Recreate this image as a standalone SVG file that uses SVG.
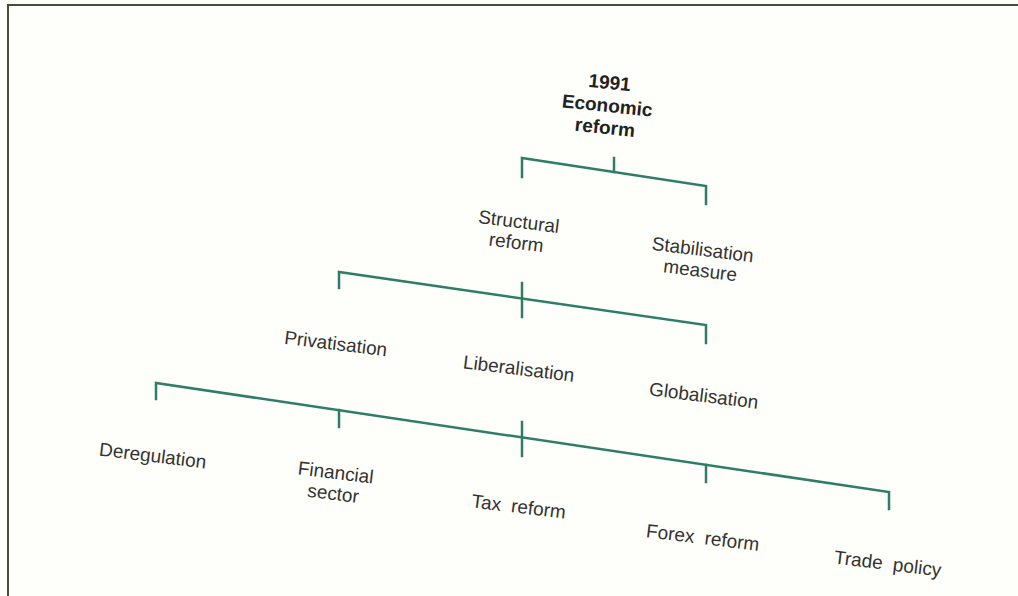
<svg xmlns="http://www.w3.org/2000/svg" width="1018" height="596" viewBox="0 0 1018 596">
<style>
.bg{fill:#fefefa}
.frame{stroke:#4b4b3c;stroke-width:2;fill:none}
.br{stroke:#2f7d66;stroke-width:2.5;fill:none;stroke-linecap:square}
.t{font-family:"Liberation Sans",Arial,sans-serif;font-size:19px;fill:#333;text-anchor:middle}
.b{font-weight:bold;fill:#222}
.ws{word-spacing:5px}
</style>
<rect class="bg" x="0" y="0" width="1018" height="596"/>
<path class="frame" d="M8,596 V5 H1018"/>
<g id="connectors">
<path class="br" d="M522,177 V158 L706,186 V204"/>
<path class="br" d="M614,158 V172"/>
<path class="br" d="M339,288 V272 L706,325 V343"/>
<path class="br" d="M522,283 V317"/>
<path class="br" d="M156,399 V383 L889,492 V509"/>
<path class="br" d="M339,410 V427"/>
<path class="br" d="M522,422 V456"/>
<path class="br" d="M706,465 V482"/>
</g>
<g id="n-root"><text class="t b" transform="translate(609,89) rotate(6)"><tspan x="0" y="0">1991</tspan><tspan x="0" y="23">Economic</tspan><tspan x="0" y="45">reform</tspan></text></g>
<g id="n-structural"><text class="t" transform="translate(518,228) rotate(7)"><tspan x="0" y="0">Structural</tspan><tspan x="0" y="21">reform</tspan></text></g>
<g id="n-stabilisation"><text class="t" transform="translate(702,256) rotate(7)"><tspan x="0" y="0">Stabilisation</tspan><tspan x="0" y="21">measure</tspan></text></g>
<g id="n-privatisation"><text class="t" transform="translate(335,350) rotate(7)">Privatisation</text></g>
<g id="n-liberalisation"><text class="t" transform="translate(518,375) rotate(7)">Liberalisation</text></g>
<g id="n-globalisation"><text class="t" transform="translate(703,402) rotate(7)">Globalisation</text></g>
<g id="n-deregulation"><text class="t" transform="translate(152,462) rotate(7)">Deregulation</text></g>
<g id="n-financial"><text class="t" transform="translate(335,479) rotate(7)"><tspan x="0" y="0">Financial</tspan><tspan x="0" y="21">sector</tspan></text></g>
<g id="n-tax"><text class="t ws" transform="translate(518,513) rotate(7)">Tax reform</text></g>
<g id="n-forex"><text class="t ws" transform="translate(702,544) rotate(7)">Forex reform</text></g>
<g id="n-trade"><text class="t ws" transform="translate(887,570) rotate(7)">Trade policy</text></g>
</svg>
